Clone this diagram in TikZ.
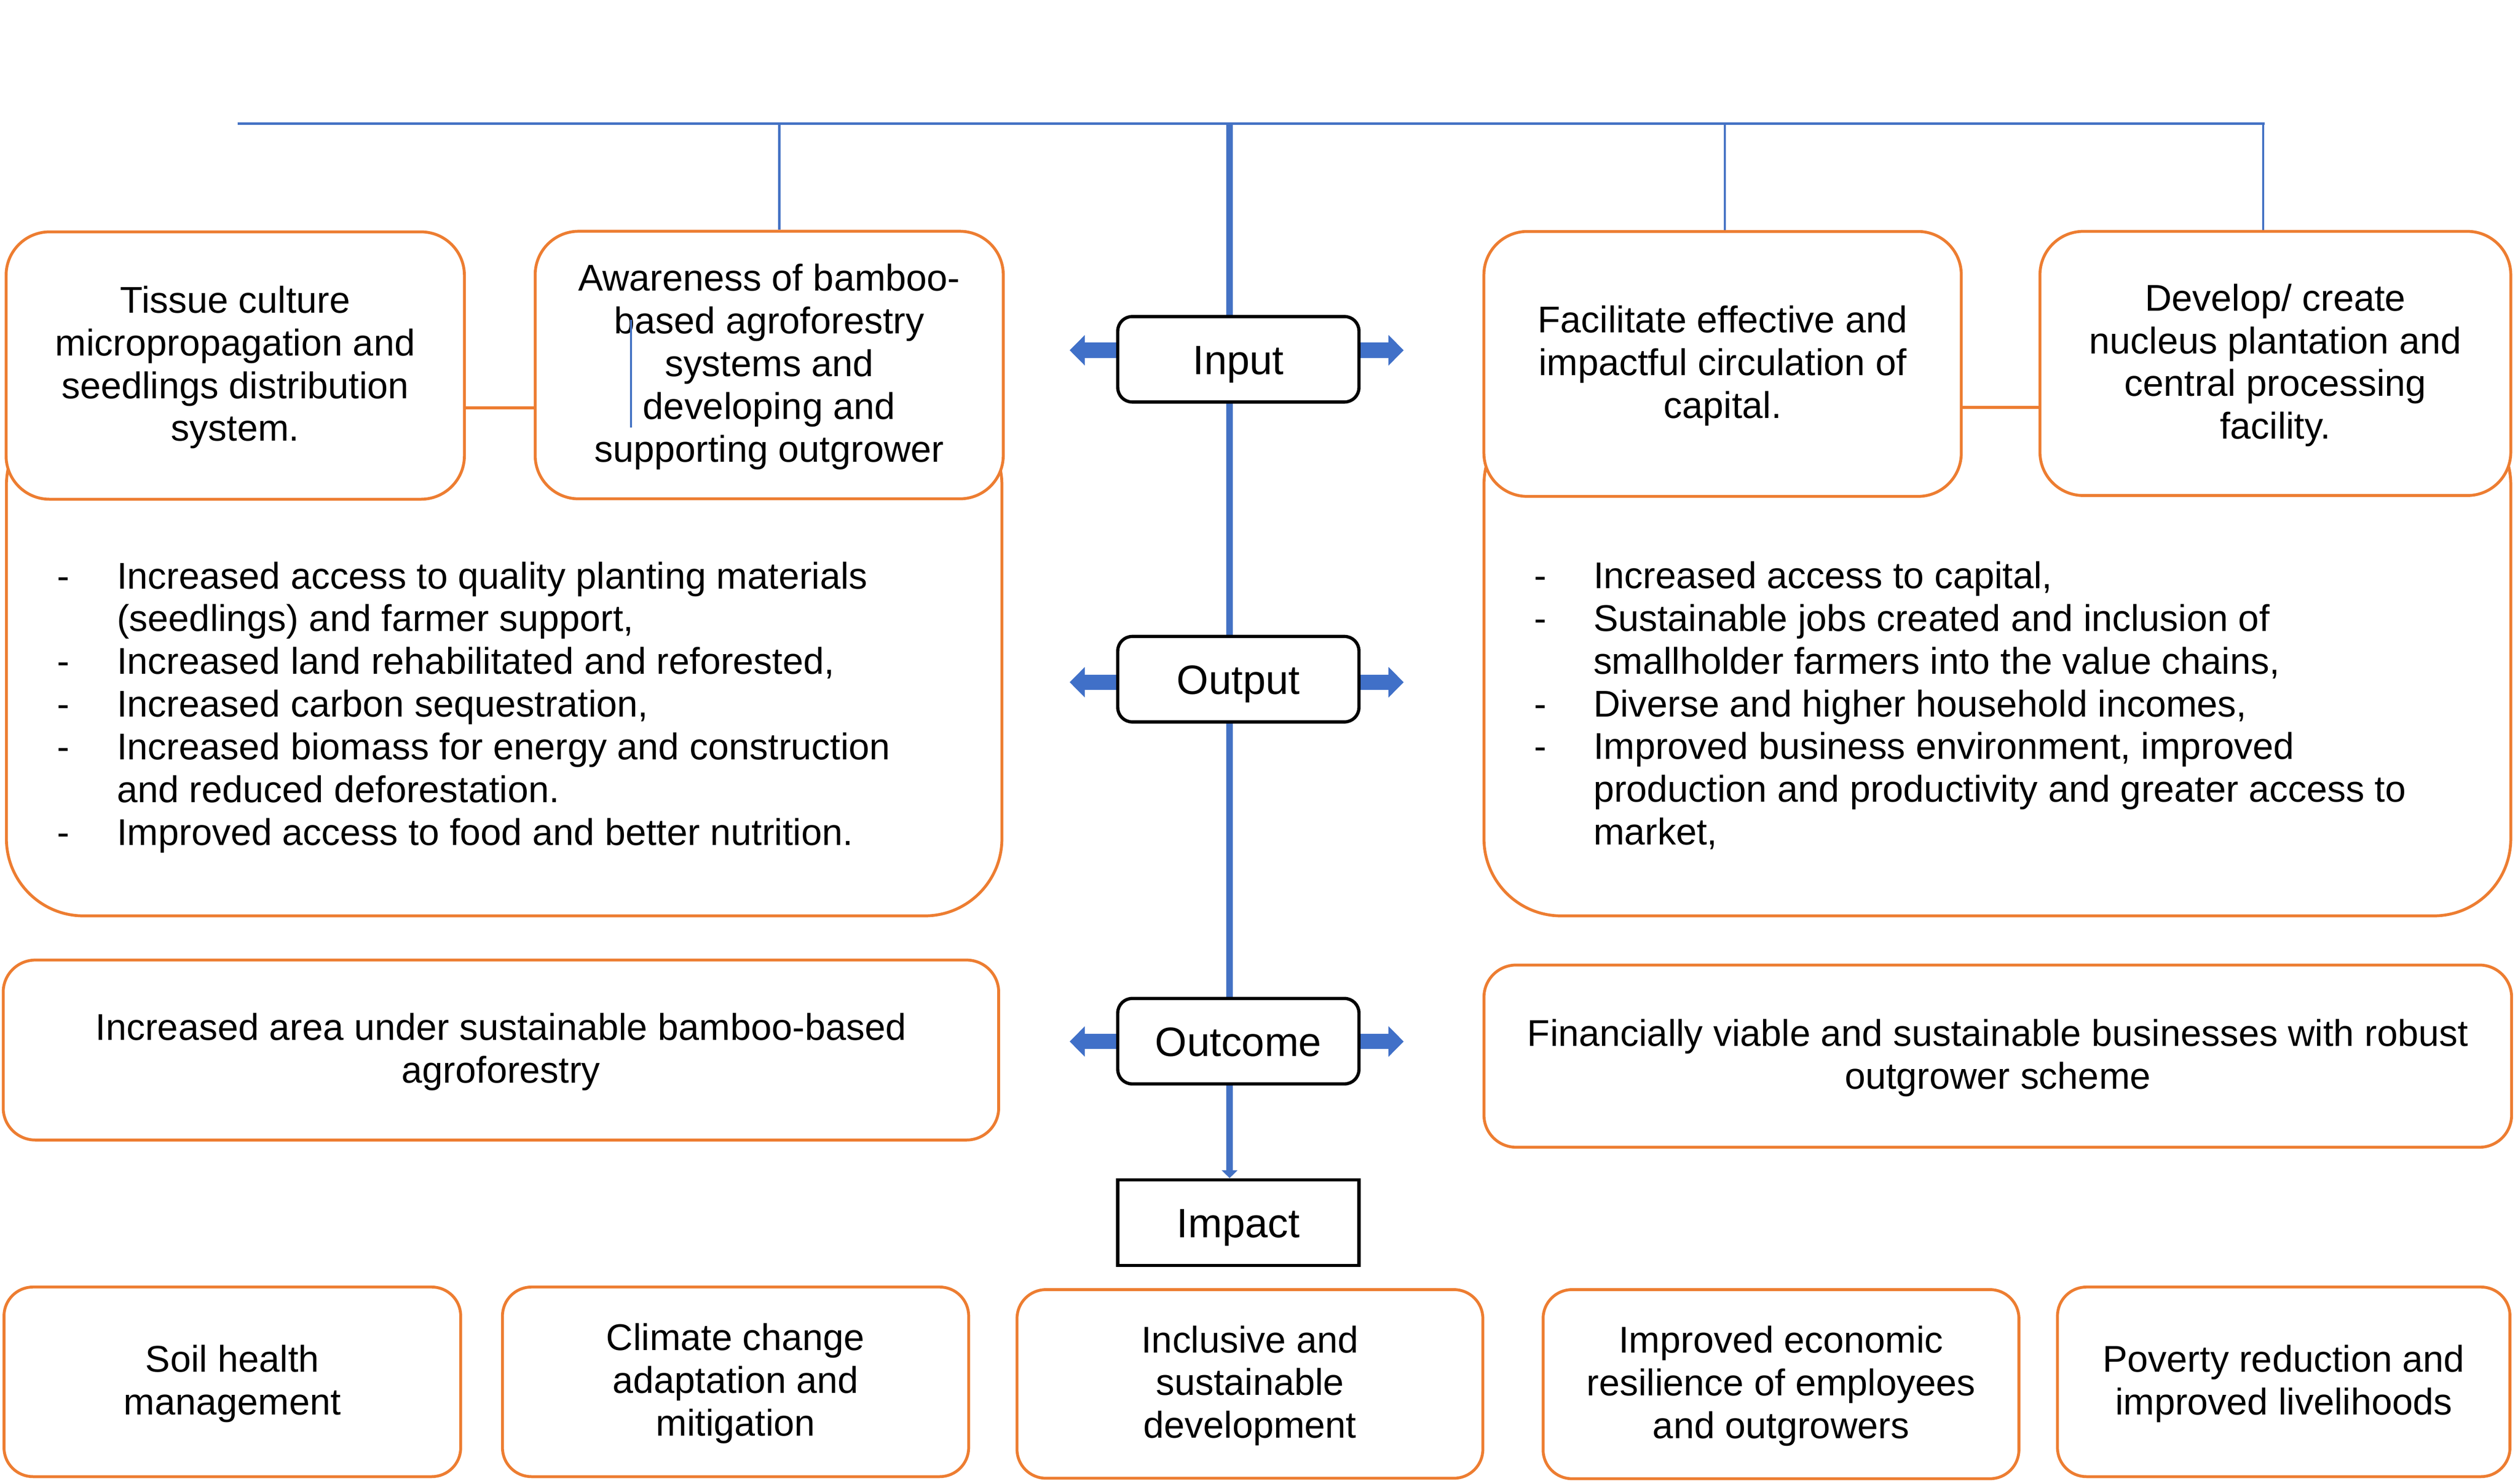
\documentclass[tikz,border=0pt]{standalone}
\usepackage{fontspec}
\setmainfont{Liberation Sans}
\usetikzlibrary{arrows.meta}
\definecolor{lineblue}{HTML}{4472C4}
\definecolor{arrowblue}{HTML}{4070C8}
\definecolor{boxorange}{HTML}{ED7D31}
\pgfdeclarelayer{bg}
\pgfsetlayers{bg,main}
\newcommand\boxtext[1]{\raisebox{-1.8pt}[\height][\depth]{\begin{tabular}{@{}c@{}}#1\end{tabular}}}
\begin{document}
\begin{tikzpicture}[x=1pt,y=-1pt,
  bodyfont/.style={font=\fontsize{23.15}{26.6}\selectfont},
  obox/.style={bodyfont, align=center, inner sep=0pt, draw=boxorange, line width=1.8pt, fill=white, rounded corners=#1},
  obox/.default=27pt,
  cbox/.style={draw=black, line width=2pt, fill=white, rounded corners=9pt, minimum width=150.1pt, minimum height=53.2pt, inner sep=0pt, font=\fontsize{25.5}{30}\selectfont, text height=24pt, text depth=5.4pt},
  orangelink/.style={draw=boxorange, line width=1.8pt},
  topline/.style={draw=lineblue, line width=1.7pt},
  dropline/.style={draw=lineblue, line width=1.4pt},
  centerline/.style={draw=lineblue, line width=4pt, -{Triangle[length=4.8pt,width=9.8pt,line width=0pt]}},
  barrow/.style={draw=arrowblue, line width=9.5pt, -{Triangle[length=9.4pt,width=19pt,line width=0pt]}},
  listnode/.style={bodyfont, anchor=base west, inner sep=0pt}
]
\useasboundingbox (0,0) rectangle (1567,923.29);

% ---------- big list boxes (under the small boxes)
\node[obox=48pt, minimum width=619.5pt, minimum height=316.2pt] (BL) at (313.75,411.9) {};
\node[obox=48pt, minimum width=639pt, minimum height=316.4pt] (BR) at (1243,411.8) {};

% ---------- input boxes
\node[obox, minimum width=285.2pt, minimum height=166.4pt] (A) at (146.4,227.5)
  {\boxtext{Tissue culture\\micropropagation and\\seedlings distribution\\system.}};
\node[obox, minimum width=291.3pt, minimum height=166.5pt] (B) at (478.7,227.2)
  {\boxtext{Awareness of bamboo-\\based agroforestry\\systems and\\developing and\\supporting outgrower}};
\node[obox, minimum width=297.1pt, minimum height=164.9pt] (C) at (1072,226.5)
  {\boxtext{Facilitate effective and\\impactful circulation of\\capital.}};
\node[obox, minimum width=293pt, minimum height=164.4pt] (D) at (1416,226.2)
  {\boxtext{Develop/ create\\nucleus plantation and\\central processing\\facility.}};

\coordinate (abY) at (0,253.8);
\coordinate (cdY) at (0,253.6);
\draw[orangelink] (A.east |- abY) -- (B.west |- abY);
\draw[orangelink] (C.east |- cdY) -- (D.west |- cdY);

% ---------- lists
\node[listnode] (LL) at (35.3,366.4) {\begin{tabular}[t]{@{}l@{}l@{}}
\makebox[37.3pt][l]{-} & Increased access to quality planting materials\\
 & (seedlings) and farmer support,\\
\makebox[37.3pt][l]{-} & Increased land rehabilitated and reforested,\\
\makebox[37.3pt][l]{-} & Increased carbon sequestration,\\
\makebox[37.3pt][l]{-} & Increased biomass for energy and construction\\
 & and reduced deforestation.\\
\makebox[37.3pt][l]{-} & Improved access to food and better nutrition.
\end{tabular}};
\node[listnode] (RL) at (954.7,366.2) {\begin{tabular}[t]{@{}l@{}l@{}}
\makebox[36.7pt][l]{-} & Increased access to capital,\\
\makebox[36.7pt][l]{-} & Sustainable jobs created and inclusion of\\
 & smallholder farmers into the value chains,\\
\makebox[36.7pt][l]{-} & Diverse and higher household incomes,\\
\makebox[36.7pt][l]{-} & Improved business environment, improved\\
 & production and productivity and greater access to\\
 & market,
\end{tabular}};

% ---------- outcome boxes
\node[obox=20pt, minimum width=619.5pt, minimum height=112pt] (OL) at (311.75,653.5)
  {\boxtext{Increased area under sustainable bamboo-based\\agroforestry}};
\node[obox=20pt, minimum width=639.5pt, minimum height=113.4pt] (OR) at (1243.25,657.3)
  {\boxtext{Financially viable and sustainable businesses with robust\\outgrower scheme}};

% ---------- impact boxes
\node[obox=18pt, minimum width=284.2pt, minimum height=118pt] (I1) at (144.6,860)
  {\boxtext{Soil health\\management}};
\node[obox=18pt, minimum width=290.1pt, minimum height=118pt] (I2) at (457.75,860)
  {\boxtext{Climate change\\adaptation and\\mitigation}};
\node[obox=18pt, minimum width=289.9pt, minimum height=117.4pt] (I3) at (777.85,861.3)
  {\boxtext{Inclusive and\\sustainable\\development}};
\node[obox=18pt, minimum width=296.1pt, minimum height=117.7pt] (I4) at (1108.35,861.45)
  {\boxtext{Improved economic\\resilience of employees\\and outgrowers}};
\node[obox=18pt, minimum width=281.6pt, minimum height=118pt] (I5) at (1421.2,860)
  {\boxtext{Poverty reduction and\\improved livelihoods}};

% ---------- central chain
\node[cbox] (Input) at (770.65,223.6) {Input};
\node[cbox] (Output) at (770.65,422.7) {Output};
\node[cbox] (Outcome) at (770.65,648) {Outcome};
\node[cbox, sharp corners, minimum height=53.3pt] (Impact) at (770.65,760.85) {Impact};

% ---------- stray line inside B
\coordinate (s1) at (392.7,199);
\coordinate (s2) at (392.7,266);
\draw[dropline] (s1) -- (s2);

% ---------- coordinates
\coordinate (TL) at (147.8,77);
\coordinate (TR) at (1409.5,77);
\coordinate (d1) at (485,77);
\coordinate (d2) at (765.2,77);
\coordinate (d3) at (1073.4,77);
\coordinate (d4) at (1408.4,77);
\coordinate (inL) at (665.7,218);
\coordinate (inR) at (873.5,218);
\coordinate (outL) at (665.7,424.6);
\coordinate (outR) at (873.5,424.6);
\coordinate (ocL) at (665.7,648.2);
\coordinate (ocR) at (873.5,648.2);

\begin{pgfonlayer}{bg}
  \draw[topline] (TL) -- (TR);
  \draw[dropline] (d1) -- (d1 |- B.north);
  \draw[dropline] (d3) -- (d3 |- C.north);
  \draw[dropline] (d4) -- (d4 |- D.north);
  \draw[centerline] (d2) -- (d2 |- Impact.north);
  \draw[barrow] (Input.center |- inL) -- (inL);
  \draw[barrow] (Input.center |- inR) -- (inR);
  \draw[barrow] (Output.center |- outL) -- (outL);
  \draw[barrow] (Output.center |- outR) -- (outR);
  \draw[barrow] (Outcome.center |- ocL) -- (ocL);
  \draw[barrow] (Outcome.center |- ocR) -- (ocR);
\end{pgfonlayer}
\end{tikzpicture}
\end{document}
